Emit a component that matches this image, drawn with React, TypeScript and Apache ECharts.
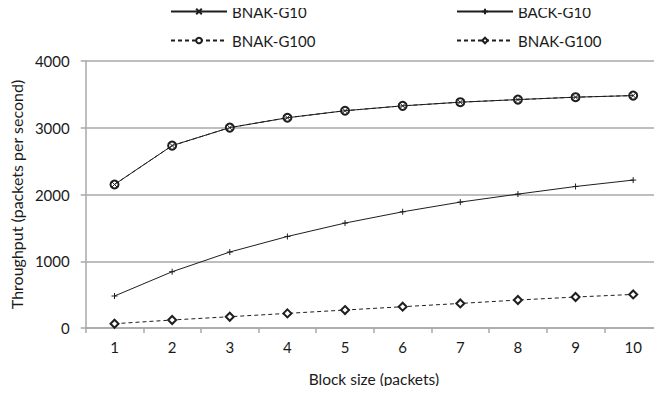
import React, { useEffect, useRef } from "react";
import * as echarts from "echarts";

const categories = ["1", "2", "3", "4", "5", "6", "7", "8", "9", "10"];
const bnakG10 = [2150, 2732, 3002, 3150, 3255, 3328, 3383, 3422, 3458, 3482];
const backG10 = [479, 843, 1138, 1371, 1572, 1741, 1886, 2006, 2120, 2216];
const bnakG100Diamond = [64, 120, 169, 219, 269, 319, 368, 419, 464, 503];
const yTicks = { min: 0, max: 4000, interval: 1000 };

const FONT = "Lato, 'Open Sans', sans-serif";
const INK = "#1e1e1e";
const TXT = "#1a1a1a";
const GRID = "#a8a8a8";
const X_SYMBOL = "path://M0,0L10,10M10,0L0,10";
const PLUS_SYMBOL = "path://M5,0L5,10M0,5L10,5";

const legendCommon = {
  orient: "horizontal" as const,
  padding: 0,
  itemWidth: 56,
  itemHeight: 7,
  textStyle: { fontFamily: FONT, fontSize: 15, color: TXT },
  formatter: (name: string) => name.replace(" (b)", ""),
  selectedMode: false,
};

export default function App() {
  const ref = useRef<HTMLDivElement>(null);
  useEffect(() => {
    if (!ref.current) return;
    const chart = echarts.init(ref.current, null, { renderer: "svg" });
    chart.setOption({
      animation: false,
      backgroundColor: "#ffffff",
      textStyle: { fontFamily: FONT },
      legend: [
        { ...legendCommon, left: 170, top: 4, data: ["BNAK-G10"] },
        { ...legendCommon, left: 456, top: 4, data: ["BACK-G10"] },
        { ...legendCommon, left: 170, top: 33, data: ["BNAK-G100"] },
        { ...legendCommon, left: 456, top: 33, data: ["BNAK-G100 (b)"] },
      ],
      grid: { left: 83, top: 61, width: 582, height: 267 },
      xAxis: {
        type: "category",
        data: categories,
        boundaryGap: true,
        name: "Block size (packets)",
        nameLocation: "middle",
        nameGap: 43,
        nameTextStyle: { fontFamily: FONT, fontSize: 15.5, color: TXT },
        axisLine: { lineStyle: { color: GRID, width: 1.5 } },
        axisTick: { show: true, length: 5, lineStyle: { color: GRID, width: 1.5 } },
        axisLabel: { margin: 11, fontFamily: FONT, fontSize: 15, color: TXT },
        splitLine: { show: false },
      },
      yAxis: {
        type: "value",
        min: yTicks.min,
        max: yTicks.max,
        interval: yTicks.interval,
        name: "Throughput (packets per second)",
        nameLocation: "middle",
        nameGap: 58,
        nameTextStyle: { fontFamily: FONT, fontSize: 16, color: TXT },
        axisLine: { show: true, lineStyle: { color: GRID, width: 1.5 } },
        axisTick: { show: true, length: 5, lineStyle: { color: GRID, width: 1.5 } },
        axisLabel: {
          margin: 16,
          fontFamily: FONT,
          fontSize: 15,
          color: TXT,
          formatter: (v: number) => String(v),
        },
        splitLine: { show: true, lineStyle: { color: GRID, width: 1.5 } },
      },
      series: [
        {
          name: "BNAK-G100",
          type: "line",
          data: bnakG10,
          symbol: "emptyCircle",
          symbolSize: 8,
          lineStyle: { color: INK, width: 1, type: [4, 3] },
          itemStyle: { color: INK, borderColor: INK, borderWidth: 1 },
          z: 2,
        },
        {
          name: "BNAK-G10",
          type: "line",
          data: bnakG10,
          symbol: X_SYMBOL,
          symbolSize: 5,
          lineStyle: { color: INK, width: 1 },
          itemStyle: { color: INK, borderColor: INK, borderWidth: 1 },
          z: 3,
        },
        {
          name: "BACK-G10",
          type: "line",
          data: backG10,
          symbol: PLUS_SYMBOL,
          symbolSize: 6,
          lineStyle: { color: INK, width: 1 },
          itemStyle: { color: INK, borderColor: INK, borderWidth: 1 },
          z: 3,
        },
        {
          name: "BNAK-G100 (b)",
          type: "line",
          data: bnakG100Diamond,
          symbol: "emptyDiamond",
          symbolSize: 8,
          lineStyle: { color: INK, width: 1, type: [4, 3] },
          itemStyle: { color: INK, borderColor: INK, borderWidth: 1 },
          z: 3,
        },
      ],
    });
    return () => chart.dispose();
  }, []);
  return <div ref={ref} style={{ width: 662, height: 394, margin: -8 }} />;
}
